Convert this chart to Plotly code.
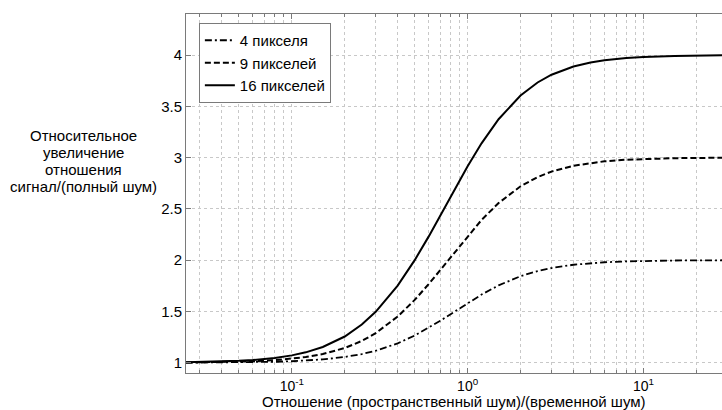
import plotly.graph_objects as go

# Ratio (spatial noise)/(temporal noise)
ratio = [0.025, 0.03, 0.04, 0.05, 0.06, 0.08, 0.1, 0.12, 0.15, 0.2, 0.25, 0.3, 0.4, 0.5,
         0.6, 0.7, 0.8, 1.0, 1.2, 1.5, 2, 2.5, 3, 4, 5, 6, 8, 10, 15, 20, 30]

gain_4 = [1.0009, 1.0013, 1.0024, 1.0037, 1.0054, 1.0095, 1.0147, 1.0211, 1.0325, 1.0561,
          1.0847, 1.1170, 1.1890, 1.2649, 1.3394, 1.4095, 1.4733, 1.5811, 1.6645, 1.7541,
          1.8439, 1.8937, 1.9235, 1.9554, 1.9709, 1.9796, 1.9884, 1.9926, 1.9967, 1.9981, 1.9992]

gain_9 = [1.0025, 1.0036, 1.0064, 1.0099, 1.0142, 1.0251, 1.0389, 1.0553, 1.0845, 1.1435,
          1.2127, 1.2886, 1.4503, 1.6125, 1.7657, 1.9055, 2.0303, 2.2361, 2.3919, 2.5570,
          2.7203, 2.8101, 2.8636, 2.9205, 2.9483, 2.9637, 2.9794, 2.9868, 2.9941, 2.9967, 2.9985]

gain_16 = [1.0047, 1.0067, 1.0119, 1.0185, 1.0266, 1.0466, 1.0717, 1.1013, 1.1533, 1.2557,
           1.3720, 1.4962, 1.7518, 2.0000, 2.2295, 2.4358, 2.6179, 2.9155, 3.1389, 3.3741,
           3.6056, 3.7324, 3.8079, 3.8881, 3.9273, 3.9490, 3.9711, 3.9814, 3.9917, 3.9953, 3.9979]

series_names = ["4 пикселя", "9 пикселей", "16 пикселей"]
x_tick_vals = [0.1, 1, 10]
x_tick_text = ["10<sup>-1</sup>", "10<sup>0</sup>", "10<sup>1</sup>"]
y_tick_vals = [1, 1.5, 2, 2.5, 3, 3.5, 4]
y_tick_text = ["1", "1.5", "2", "2.5", "3", "3.5", "4"]
y_title_lines = ["Относительное", "увеличение", "отношения", "сигнал/(полный шум)"]
x_title = "Отношение (пространственный шум)/(временной шум)"

FONT = "Liberation Sans, Arial, sans-serif"
AXIS = "#7a7a7a"
GRID = "#c8c8c8"
FS = 15

fig = go.Figure()
fig.add_trace(go.Scatter(x=ratio, y=gain_4, mode="lines", name=series_names[0],
                         line=dict(color="black", width=1.8, dash="7px,3px,2px,3px")))
fig.add_trace(go.Scatter(x=ratio, y=gain_9, mode="lines", name=series_names[1],
                         line=dict(color="black", width=2, dash="6px,3px")))
fig.add_trace(go.Scatter(x=ratio, y=gain_16, mode="lines", name=series_names[2],
                         line=dict(color="black", width=2)))

# plot area: x 186..722 px, y 14..373 px
annotations = []
line_centers_px = [135, 152, 169, 186]
for txt, ypx in zip(y_title_lines, line_centers_px):
    annotations.append(dict(text=txt, xref="paper", yref="paper",
                            x=(83 - 186) / 536, y=(373 - ypx) / 359,
                            xanchor="center", yanchor="middle", showarrow=False,
                            font=dict(size=FS)))
annotations.append(dict(text=x_title, xref="paper", yref="paper",
                        x=0.5, y=(373 - 401) / 359, xanchor="center", yanchor="middle",
                        showarrow=False, font=dict(size=FS)))

fig.update_layout(
    width=722, height=410,
    margin=dict(l=186, r=0, t=14, b=37),
    paper_bgcolor="white", plot_bgcolor="white",
    font=dict(family=FONT, size=FS, color="black"),
    showlegend=True,
    legend=dict(x=0.024, y=0.975, xanchor="left", yanchor="top",
                bgcolor="white", bordercolor=AXIS, borderwidth=1,
                font=dict(size=FS), tracegroupgap=0, itemwidth=30),
    annotations=annotations,
)

fig.update_xaxes(
    type="log", range=[-1.602, 1.447],
    tickmode="array", tickvals=x_tick_vals, ticktext=x_tick_text,
    ticks="inside", ticklen=5, tickcolor=AXIS,
    showline=True, linecolor=AXIS, linewidth=1, mirror="ticks",
    showgrid=True, gridcolor=GRID, griddash="dot", gridwidth=1,
    zeroline=False,
    tickfont=dict(size=14),
    minor=dict(dtick="D1", ticks="inside", ticklen=3, tickcolor=AXIS,
               showgrid=True, gridcolor=GRID, griddash="dot", gridwidth=1),
)
fig.update_yaxes(
    range=[0.9, 4.4],
    tickmode="array", tickvals=y_tick_vals, ticktext=y_tick_text,
    ticks="inside", ticklen=5, tickcolor=AXIS,
    showline=True, linecolor=AXIS, linewidth=1, mirror=False,
    showgrid=True, gridcolor=GRID, griddash="dot", gridwidth=1,
    zeroline=False,
    tickfont=dict(size=FS),
)

fig.write_html("out.html")
